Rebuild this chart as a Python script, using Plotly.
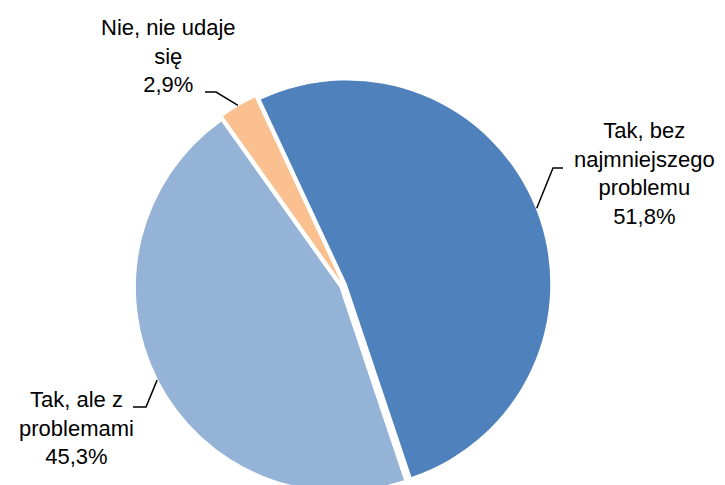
import math
import plotly.graph_objects as go

labels = ["Tak, bez najmniejszego problemu", "Tak, ale z problemami", "Nie, nie udaje się"]
values = [51.8, 45.3, 2.9]
label_texts = ["Tak, bez<br>najmniejszego<br>problemu<br>51,8%",
               "Tak, ale z<br>problemami<br>45,3%",
               "Nie, nie udaje<br>się<br>2,9%"]
colors = ["#4F81BD", "#95B3D7", "#FAC090"]

W, H = 725, 490
OFF = 8                         # page body margin shifts the figure by 8 px
cx, cy, R = 343 - OFF, 285.5 - OFF, 203.5   # pie centre and radius (px)
pull = 0.02
rotation = -25
half = R * (1 + pull)

# label boxes (px in window): text centre, elbow of the leader line, end of the leader line
label_pos = [(644, 173), (76, 428), (168, 56)]
elbows = [((553, 168), (563, 168)), ((146, 407), (133, 407)), ((216, 92), (205, 92))]


def px(x, y):
    return (x - OFF) / W, 1 - (y - OFF) / H


fig = go.Figure(go.Pie(
    labels=labels, values=values, sort=False, direction="clockwise",
    rotation=rotation, pull=[pull] * 3, textinfo="none", hoverinfo="label+percent",
    marker=dict(colors=colors, line=dict(width=0)),
    domain=dict(x=[(cx - half) / W, (cx + half) / W],
                y=[max(0, (H - cy - half) / H), min(1, (H - cy + half) / H)]),
))

total = sum(values)
acc = 0
for v, txt, (lx, ly), (e1, e2) in zip(values, label_texts, label_pos, elbows):
    mid = math.radians(rotation + (acc + v / 2) / total * 360)
    acc += v
    rr = R * (1 + pull) + 1
    sx, sy = cx + OFF + rr * math.sin(mid), cy + OFF - rr * math.cos(mid)
    p0, p1, p2 = px(sx, sy), px(*e1), px(*e2)
    fig.add_shape(type="path", xref="paper", yref="paper",
                  path=f"M {p0[0]} {p0[1]} L {p1[0]} {p1[1]} L {p2[0]} {p2[1]}",
                  line=dict(color="black", width=1.5))
    ax, ay = px(lx, ly)
    fig.add_annotation(x=ax, y=ay, xref="paper", yref="paper", text=txt, showarrow=False,
                       align="center", xanchor="center", yanchor="middle",
                       font=dict(family="Liberation Sans, Arial", size=22, color="black"))

fig.update_layout(width=W, height=H, margin=dict(l=0, r=0, t=0, b=0),
                  showlegend=False, paper_bgcolor="white", plot_bgcolor="white")
fig.write_html("out.html")
